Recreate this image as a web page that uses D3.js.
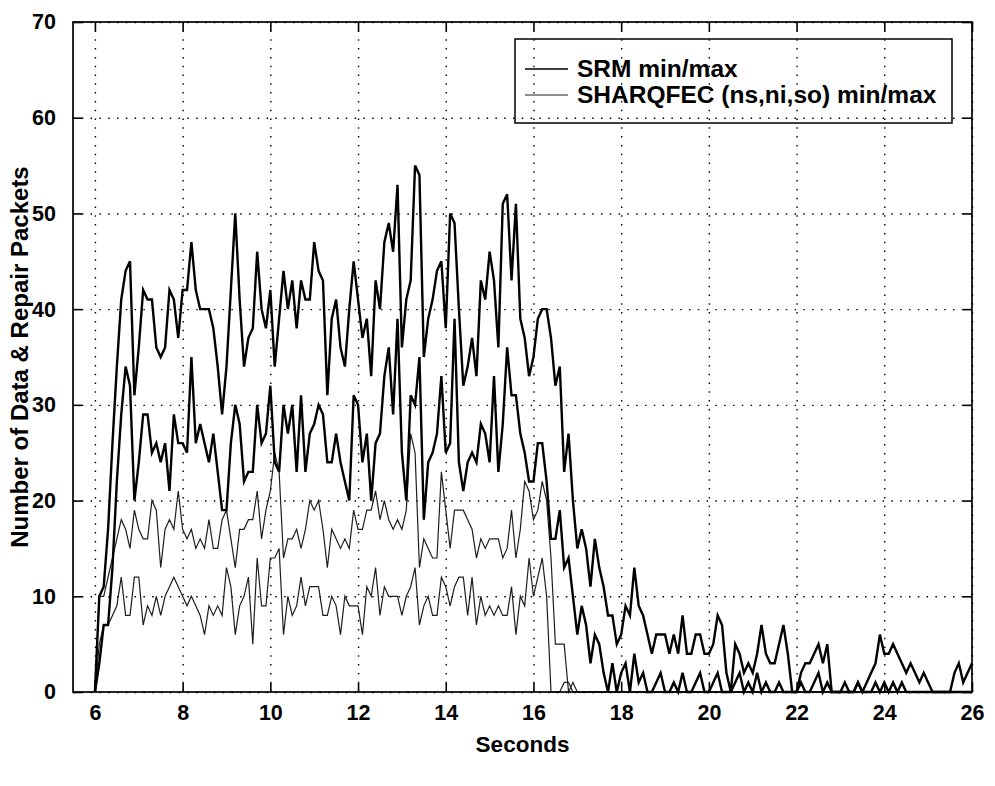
<!DOCTYPE html>
<html>
<head>
<meta charset="utf-8">
<script src="https://cdn.jsdelivr.net/npm/d3@7"></script>
<style>
body { margin: 0; background: #fff; }
text { font-family: "Liberation Sans", Arial, Helvetica, sans-serif; fill: #000; font-weight: bold; }
</style>
</head>
<body>
<div id="main"></div>
<script>

// samples every 0.1 s from 6.0 to 26.0 (one row = one second)
var startTime = 6 ;
var step = 0.1 ;

var srmMax = [
  0,10,11,17,26,34,41,44,45,31,
  36,42,41,41,36,35,36,42,41,37,
  42,42,47,42,40,40,40,38,34,29,
  34,42,50,41,34,37,38,46,40,38,
  42,34,39,44,40,43,38,43,41,41,
  47,44,43,31,39,41,36,34,40,45,
  41,37,39,33,43,40,47,49,46,53,
  36,41,43,55,54,35,39,41,44,45,
  38,50,49,40,32,34,37,33,43,41,
  46,43,36,51,52,43,51,39,37,33,
  35,39,40,40,37,32,34,23,27,20,
  15,17,15,11,16,13,11,8,8,5,
  6,9,8,13,9,8,6,4,6,6,
  6,4,6,4,8,4,4,6,6,4,
  4,5,8,7,2,0,5,4,2,3,
  2,4,7,4,3,3,5,7,4,0,
  0,2,3,3,4,5,3,5,0,0,
  0,1,0,0,1,0,1,2,3,6,
  4,4,5,4,3,2,3,2,1,2,
  1,0,0,0,0,0,2,3,1,2,
  3
];

var srmMin = [
  0,3,7,7,13,22,29,34,32,20,
  24,29,29,25,26,24,26,21,29,26,
  26,25,35,26,28,26,24,27,23,19,
  19,26,30,28,22,23,23,30,26,27,
  32,24,23,30,27,30,23,31,23,27,
  28,30,29,24,24,27,24,22,20,31,
  30,24,27,20,26,27,33,36,29,39,
  25,20,31,30,35,18,24,25,27,33,
  25,26,39,24,21,24,25,24,28,27,
  24,33,23,28,36,31,31,27,25,22,
  22,26,26,22,16,16,19,13,14,10,
  6,9,7,3,6,5,2,0,3,0,
  2,3,0,4,1,2,0,0,1,2,
  0,0,1,0,2,0,0,1,2,0,
  0,1,2,0,0,0,1,2,0,1,
  0,2,0,1,0,0,1,0,0,0,
  0,1,0,0,1,2,0,1,0,0,
  0,0,0,0,1,0,0,0,1,0,
  1,0,1,0,1,0,0,0,0,0,
  0,0,0,0,0,0,0,0,0,0,
  0
];

var sharqMax = [
  0,10,10,12,14,16,18,17,15,19,
  17,16,16,20,19,13,17,18,17,21,
  17,16,17,15,16,15,18,15,15,18,
  19,16,13,17,17,18,18,21,16,19,
  21,25,23,14,16,16,17,15,17,20,
  19,20,17,13,17,16,15,16,15,19,
  17,17,19,19,21,18,20,18,17,18,
  17,19,27,25,13,16,15,14,14,23,
  19,15,19,19,19,18,17,14,16,15,
  16,16,16,14,15,19,14,17,22,21,
  18,19,22,20,14,5,5,5,0,1,
  0,0,0,0,0,0,0,0,0,0,
  0,0,0,0,0,0,0,0,0,0,
  0,0,0,0,0,0,0,0,0,0,
  0,0,0,0,0,0,0,0,0,0,
  0,0,0,0,0,0,0,0,0,0,
  0,0,0,0,0,0,0,0,0,0,
  0,0,0,0,0,0,0,0,0,0,
  0,0,0,0,0,0,0,0,0,0,
  0,0,0,0,0,0,0,0,0,0,
  0
];

var sharqMin = [
  0,5,7,7,8,9,12,8,8,12,
  12,7,9,8,10,8,10,11,12,11,
  10,9,10,9,8,6,9,8,9,8,
  13,11,6,9,10,12,5,14,9,9,
  14,14,15,6,10,8,9,12,9,11,
  11,11,8,8,10,9,6,10,9,9,
  9,6,11,10,13,8,11,10,10,10,
  8,10,11,13,7,9,10,8,8,12,
  11,9,11,12,12,8,12,7,10,8,
  9,8,9,8,8,11,6,10,9,14,
  10,12,14,10,0,0,0,1,1,0,
  0,0,0,0,0,0,0,0,0,0,
  0,0,0,0,0,0,0,0,0,0,
  0,0,0,0,0,0,0,0,0,0,
  0,0,0,0,0,0,0,0,0,0,
  0,0,0,0,0,0,0,0,0,0,
  0,0,0,0,0,0,0,0,0,0,
  0,0,0,0,0,0,0,0,0,0,
  0,0,0,0,0,0,0,0,0,0,
  0,0,0,0,0,0,0,0,0,0,
  0
];

var xTicks = [6,8,10,12,14,16,18,20,22,24,26] ;
var yTicks = [0,10,20,30,40,50,60,70] ;
var legendLabels = ["SRM min/max", "SHARQFEC (ns,ni,so) min/max"] ;


var chart = new Object ;

chart.width = 995 ;
chart.height = 786 ;
chart.left = 73 ;
chart.right = 972 ;
chart.top = 22 ;
chart.bottom = 692 ;

chart.x = d3.scaleLinear().domain([5.5, 26]).range([chart.left, chart.right]) ;
chart.y = d3.scaleLinear().domain([0, 70]).range([chart.bottom, chart.top]) ;

chart.svg = d3.select("#main")
  .append("svg")
  .attr("width", chart.width)
  .attr("height", chart.height) ;

var svg = chart.svg ;
var pw = chart.right - chart.left ;
var ph = chart.bottom - chart.top ;

// dotted grid
var gx = svg.append("g")
  .attr("transform", "translate(0," + chart.bottom + ")")
  .call(d3.axisBottom(chart.x).tickValues(xTicks).tickSize(-ph).tickFormat("")) ;
var gy = svg.append("g")
  .attr("transform", "translate(" + chart.left + ",0)")
  .call(d3.axisLeft(chart.y).tickValues(yTicks).tickSize(-pw).tickFormat("")) ;
[gx, gy].forEach(function(g) {
  g.select(".domain").remove() ;
  g.selectAll("line")
    .attr("stroke", "#000")
    .attr("stroke-width", 1.4)
    .attr("stroke-dasharray", "1.5,7.3") ;
}) ;

// lines
var line = d3.line()
  .x(function(d, i) { return chart.x(startTime + i * step) ; })
  .y(function(d) { return chart.y(d) ; }) ;

var series = [
  { data: sharqMax, color: "#1e1e1e", w: 1.2 },
  { data: sharqMin, color: "#1e1e1e", w: 1.2 },
  { data: srmMax, color: "#000", w: 2.4 },
  { data: srmMin, color: "#000", w: 2.4 }
] ;

series.forEach(function(s) {
  svg.append("path")
    .datum(s.data)
    .attr("d", line)
    .attr("fill", "none")
    .attr("stroke", s.color)
    .attr("stroke-width", s.w)
    .attr("stroke-linejoin", "miter") ;
}) ;

// frame + inward ticks on all sides
var axes = [
  { a: d3.axisBottom(chart.x).tickValues(xTicks).tickPadding(13), t: "translate(0," + chart.bottom + ")" },
  { a: d3.axisTop(chart.x).tickValues(xTicks).tickFormat(""), t: "translate(0," + chart.top + ")" },
  { a: d3.axisLeft(chart.y).tickValues(yTicks).tickPadding(17), t: "translate(" + chart.left + ",0)" },
  { a: d3.axisRight(chart.y).tickValues(yTicks).tickFormat(""), t: "translate(" + chart.right + ",0)" }
] ;

axes.forEach(function(ax) {
  var g = svg.append("g")
    .attr("transform", ax.t)
    .call(ax.a.tickSize(-9)) ;
  g.select(".domain").remove() ;
  g.selectAll("line").attr("stroke", "#000").attr("stroke-width", 1.6) ;
  g.selectAll("text")
    .attr("font-size", 21.5)
    .attr("font-family", "Liberation Sans, Arial, sans-serif")
    .attr("font-weight", "bold")
    .attr("fill", "#000") ;
}) ;

svg.append("rect")
  .attr("x", chart.left)
  .attr("y", chart.top)
  .attr("width", pw)
  .attr("height", ph)
  .attr("fill", "none")
  .attr("stroke", "#000")
  .attr("stroke-width", 1.7) ;

// axis labels
svg.append("text")
  .attr("x", (chart.left + chart.right) / 2)
  .attr("y", 752)
  .attr("text-anchor", "middle")
  .attr("font-size", 22.5)
  .text("Seconds") ;

svg.append("text")
  .attr("transform", "translate(28," + ((chart.top + chart.bottom) / 2) + ") rotate(-90)")
  .attr("text-anchor", "middle")
  .attr("font-size", 24)
  .text("Number of Data & Repair Packets") ;

// legend
var lg = svg.append("g") ;
lg.append("rect")
  .attr("x", 515)
  .attr("y", 39)
  .attr("width", 437)
  .attr("height", 84)
  .attr("fill", "none")
  .attr("stroke", "#000")
  .attr("stroke-width", 1.5) ;

legendLabels.forEach(function(lab, i) {
  var yy = 69 + i * 26 ;
  lg.append("line")
    .attr("x1", 525).attr("x2", 568)
    .attr("y1", yy).attr("y2", yy)
    .attr("stroke", i == 0 ? "#000" : "#1e1e1e")
    .attr("stroke-width", i == 0 ? 1.5 : 1.2) ;
  lg.append("text")
    .attr("x", 577)
    .attr("y", yy + 8)
    .attr("font-size", 24.5)
    .text(lab) ;
}) ;

</script>
</body>
</html>
